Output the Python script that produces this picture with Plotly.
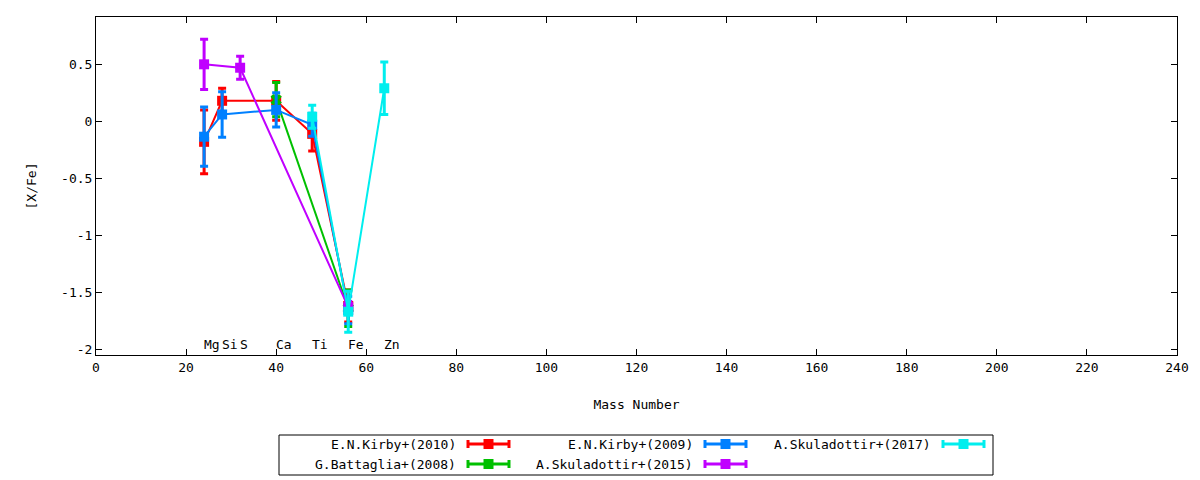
import plotly.graph_objects as go

# element labels drawn along the bottom of the plot
elements = ["Mg", "Si", "S", "Ca", "Ti", "Fe", "Zn"]
element_mass = [24, 28, 32, 40, 48, 56, 64]

# each dataset: mass number, [X/Fe], error
kirby2010_x = [24, 28, 40, 48, 56]
kirby2010_y = [-0.18, 0.18, 0.18, -0.11, -1.62]
kirby2010_err = [0.28, 0.11, 0.17, 0.15, 0.14]

battaglia2008_x = [40, 56]
battaglia2008_y = [0.19, -1.64]
battaglia2008_err = [0.15, 0.16]

kirby2009_x = [24, 28, 40, 48, 56]
kirby2009_y = [-0.135, 0.06, 0.1, -0.03, -1.655]
kirby2009_err = [0.26, 0.2, 0.15, 0.1, 0.12]

skul2015_x = [24, 32, 56]
skul2015_y = [0.5, 0.47, -1.63]
skul2015_err = [0.22, 0.1, 0.05]

skul2017_x = [48, 56, 64]
skul2017_y = [0.04, -1.67, 0.29]
skul2017_err = [0.1, 0.18, 0.23]

series = [
    ("E.N.Kirby+(2010)", kirby2010_x, kirby2010_y, kirby2010_err, "#ff0000", "square"),
    ("G.Battaglia+(2008)", battaglia2008_x, battaglia2008_y, battaglia2008_err, "#00c000", "x"),
    ("E.N.Kirby+(2009)", kirby2009_x, kirby2009_y, kirby2009_err, "#0080ff", "square"),
    ("A.Skuladottir+(2015)", skul2015_x, skul2015_y, skul2015_err, "#c000ff", "square"),
    ("A.Skuladottir+(2017)", skul2017_x, skul2017_y, skul2017_err, "#00eeee", "square"),
]

FONT = "DejaVu Sans Mono"

fig = go.Figure()
for name, xs, ys, errs, color, sym in series:
    fig.add_trace(go.Scatter(
        x=xs, y=ys, name=name, mode="lines+markers",
        line=dict(color=color, width=2),
        marker=dict(color=color, size=10, symbol=sym, line=dict(width=0)),
        error_y=dict(type="data", array=errs, visible=True, color=color,
                     thickness=3, width=4),
        showlegend=False,
    ))

for el, m in zip(elements, element_mass):
    fig.add_annotation(x=m - 0.55, y=-1.955, text=el, showarrow=False,
                       xanchor="left", yanchor="middle",
                       font=dict(family=FONT, size=13, color="black"))

# the page puts the figure 8px in from the corner, so the figure is
# 8px smaller and everything is measured from (8, 8)
OFF = 8
FW, FH = 1200 - OFF, 480 - OFF
L, T, W, H = 96 - OFF, 17 - OFF, 1081, 338


def px(x):
    return (x - OFF - L) / W


def py(y):
    return (T + H - (y - OFF)) / H


# hand-drawn gnuplot style legend below the plot (page pixel -> paper)
shapes = [dict(type="rect", xref="paper", yref="paper",
               x0=px(279), x1=px(993), y0=py(435), y1=py(475),
               line=dict(color="black", width=1))]
annotations = []
slots = [(458, 444), (458, 464), (695, 444), (695, 464), (933, 444)]
for (name, xs, ys, errs, color, sym), (tx, ty) in zip(series, slots):
    annotations.append(dict(x=px(tx), y=py(ty), xref="paper", yref="paper",
                            text=name, showarrow=False, xanchor="right",
                            yanchor="middle",
                            font=dict(family=FONT, size=13, color="black")))
    x0, x1 = tx + 10, tx + 51
    shapes.append(dict(type="line", xref="paper", yref="paper",
                       x0=px(x0), x1=px(x1), y0=py(ty), y1=py(ty),
                       line=dict(color=color, width=3)))
    for cx in (x0, x1):
        shapes.append(dict(type="line", xref="paper", yref="paper",
                           x0=px(cx), x1=px(cx), y0=py(ty - 4), y1=py(ty + 4),
                           line=dict(color=color, width=3)))
    mx = (x0 + x1) / 2
    shapes.append(dict(type="rect", xref="paper", yref="paper",
                       x0=px(mx - 5), x1=px(mx + 5), y0=py(ty - 5), y1=py(ty + 5),
                       fillcolor=color, line=dict(width=0)))

for a in annotations:
    fig.add_annotation(**a)

axis_common = dict(showgrid=False, zeroline=False, showline=True, mirror="allticks",
                   linecolor="black", linewidth=1, ticks="inside", ticklen=6,
                   tickcolor="black", tickfont=dict(family=FONT, size=13, color="black"))

fig.update_layout(
    width=FW, height=FH,
    margin=dict(l=L, r=FW - L - W, t=T, b=FH - T - H),
    plot_bgcolor="white", paper_bgcolor="white",
    font=dict(family=FONT, size=13, color="black"),
    shapes=shapes,
    xaxis=dict(range=[0, 240], dtick=20,
               title=dict(text="Mass Number", standoff=26,
                          font=dict(family=FONT, size=13)),
               **axis_common),
    yaxis=dict(range=[-2.05, 0.915],
               tickvals=[-2, -1.5, -1, -0.5, 0, 0.5],
               ticktext=["-2", "-1.5", "-1", "-0.5", "0", "0.5"],
               title=dict(text="[X/Fe]", standoff=21,
                          font=dict(family=FONT, size=13)),
               **axis_common),
)

fig.write_html("out.html")
